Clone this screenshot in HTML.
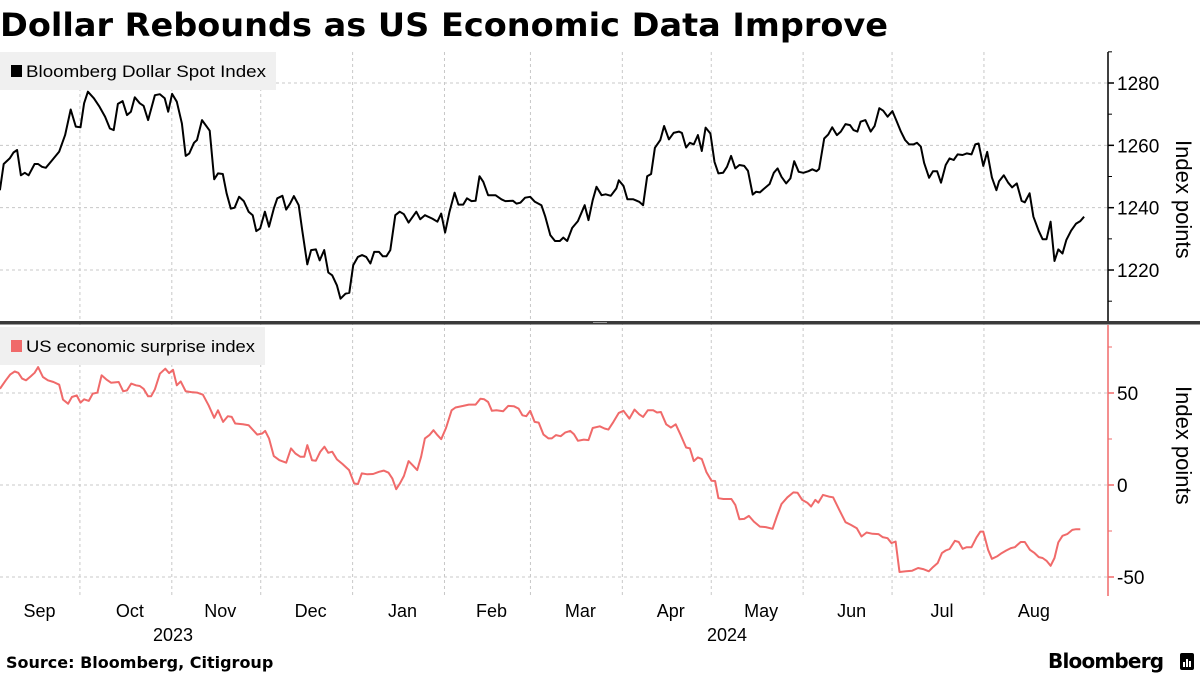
<!DOCTYPE html>
<html><head><meta charset="utf-8"><style>
html,body{margin:0;padding:0;background:#fff;}
svg{display:block;font-family:"Liberation Sans","DejaVu Sans",sans-serif;}
</style></head><body>
<svg id="chart" width="1200" height="675" viewBox="0 0 1200 675">
<text x="0" y="36" font-family="DejaVu Sans, sans-serif" font-weight="bold" font-size="32" textLength="888" lengthAdjust="spacingAndGlyphs" fill="#000">Dollar Rebounds as US Economic Data Improve</text>
<g id="grid"></g>
<g id="topPanel"></g>
<g id="botPanel"></g>
<rect x="0" y="321" width="1200" height="3.5" fill="#3a3a3a"/>
<rect x="593" y="322" width="14" height="1" fill="#999"/>
<g>
<rect x="0" y="52" width="276" height="38" fill="#f0f0f0"/>
<rect x="11" y="65" width="11" height="12" fill="#000"/>
<text x="26" y="77" font-size="17" textLength="240" lengthAdjust="spacingAndGlyphs" fill="#000">Bloomberg Dollar Spot Index</text>
</g>
<g>
<rect x="0" y="327" width="265" height="38" fill="#f0f0f0"/>
<rect x="11" y="340" width="11" height="12" fill="#f06a6a"/>
<text x="26" y="352" font-size="17" textLength="229" lengthAdjust="spacingAndGlyphs" fill="#000">US economic surprise index</text>
</g>
<text transform="translate(1176,140) rotate(90)" font-size="22" fill="#000">Index points</text>
<text transform="translate(1176,386) rotate(90)" font-size="22" fill="#000">Index points</text>
<text x="173" y="641" font-size="18" text-anchor="middle" fill="#000">2023</text>
<text x="727" y="641" font-size="18" text-anchor="middle" fill="#000">2024</text>
<text x="6" y="668" font-family="DejaVu Sans, sans-serif" font-weight="bold" font-size="16" fill="#000">Source: Bloomberg, Citigroup</text>
<text x="1048" y="668" font-family="DejaVu Sans, sans-serif" font-weight="bold" font-size="20" letter-spacing="-0.8" fill="#000">Bloomberg</text>
<g>
<rect x="1180" y="653" width="14" height="17" rx="2" fill="#000"/>
<rect x="1183" y="662" width="2" height="5" fill="#fff"/><rect x="1186" y="659" width="2" height="8" fill="#fff"/><rect x="1189" y="661" width="2" height="6" fill="#fff"/>
</g>
<g id="xaxis"></g>
</svg>
<script>
// day offsets since 2023-09-01 and values
const dollarDays=[3,4.3,6.3,7.6,8.8,10.1,11.4,12.7,14.7,15.9,17.2,18.5,20.5,23,25,26.9,28.6,30.2,31.4,32.7,34.7,36.6,38.5,40.1,41.4,42.8,44.4,45.9,47.2,48.5,50.2,51.5,53,55.3,57,58.6,59.8,61.1,62.7,64.4,65.7,66.9,68.5,69.5,71.2,73.8,75.3,76.6,78.2,79.5,80.9,82.2,83.7,85.3,86.9,88.3,89.5,90.8,92.4,93.8,95.4,96.6,98.3,99.6,100.9,102.2,103.8,105,106.7,108,109.6,110.9,112.4,113.8,115.1,116.7,117.9,119.6,120.9,122.2,123.8,125.2,126.6,128,129.3,130.9,132.2,133.4,134.7,136.4,137.9,139.3,140.9,143.5,144.8,146.4,148.9,150.6,151.9,153.2,154.7,156.4,157.7,159.3,160.6,162.1,163.5,164.8,166.1,167.7,170.2,172.2,173.5,176.1,177.3,178.6,180.2,181.9,183.5,185.7,187,188.7,190.3,191.9,193.1,194.4,196.1,198,200.3,201.6,203,204.3,206,207.4,209.1,211,211.8,213.4,214.7,216.7,218.7,220,221.4,222.7,224,225.8,227.1,228.7,230.3,232.1,233.1,234.5,235.8,237.1,238.5,239.8,241.1,242.7,244.1,245.4,247,248.3,249.7,251.1,252.5,254.1,255.4,257,258.1,259.4,260.7,262.7,264.1,265.4,266.7,268.3,269.7,271,272.5,274.1,275.8,277.1,278.5,279.4,281.1,282.5,283.8,285.4,286.7,288.3,289.8,291,292.3,293.4,295,296.8,298.1,299.7,301,302.5,304.1,305.4,307,308.4,309.8,311.2,312.4,313.7,314.8,316.5,317.8,319.2,320.5,322.1,323.4,324.8,326.1,327.8,329.2,330.8,332.1,333.2,334.8,336.1,337.7,339.2,340.1,341.7,343.2,344.5,346.1,347.7,348.8,350.4,351.7,353.5,354.8,356.1,357.5,358.8,360.1,361.5,362.8,364.4,366.1,367.5,368.8];
const dollarValues=[1245.6,1254,1255.8,1257.7,1258.5,1250.4,1251.2,1250.4,1254,1254,1253.1,1252.8,1255.1,1258,1263.3,1271.5,1266,1265.8,1273.5,1277.2,1275.1,1272.4,1269.2,1265.4,1264.9,1273.3,1274.2,1269.7,1270.8,1275.4,1273.5,1272.7,1268.1,1276.1,1276.4,1275.1,1270.8,1276.5,1274,1267,1256.6,1257.4,1260.8,1261.7,1268.1,1264.7,1249.1,1251,1250.8,1244.6,1239.7,1240,1243.5,1242.1,1238.7,1237.6,1232.5,1233.3,1238.7,1233.9,1239.7,1243,1243.8,1239.4,1241.3,1243.7,1240.8,1232.8,1221.8,1226.4,1226.6,1223.1,1226.4,1219.2,1218.3,1215.1,1210.8,1212.4,1212.7,1221.5,1224.2,1224.8,1224.2,1222.1,1225.8,1225.8,1224.4,1224.4,1226.4,1237.6,1238.7,1237.9,1235.2,1238.7,1236.3,1237.6,1236.5,1235.5,1238.1,1232,1238.7,1244.8,1241,1241,1243,1242.1,1242.2,1250.1,1248.3,1244,1244,1242.7,1242.1,1242.2,1241.3,1241.6,1243.2,1243.5,1241.9,1240.8,1237.1,1231.2,1229.3,1229.3,1230.4,1229.3,1233.5,1235.7,1240.8,1236,1242.4,1246.7,1244,1244.3,1243.8,1246.2,1248.8,1247,1242.7,1242.7,1241.9,1240.8,1250.1,1250.8,1259.2,1261.7,1266.2,1261.9,1264,1264.4,1264,1259.3,1260.8,1260.3,1263.3,1258.2,1265.7,1263.8,1254.7,1251,1251.2,1253.1,1256.6,1252.6,1253.7,1253.4,1251.8,1244.2,1245.1,1244.9,1246,1247.6,1251.2,1252.6,1249.9,1247.8,1249.4,1254.9,1251.5,1251.2,1251.7,1252.3,1251.7,1252.4,1262.2,1263.5,1265.8,1263.3,1264.4,1266.8,1266.5,1264.9,1264.4,1267.6,1268.1,1264.4,1266.2,1271.9,1271.1,1269.2,1271,1268.1,1264.4,1261.7,1260.3,1260.3,1260.8,1259.6,1254.4,1249.6,1251.7,1251.7,1248,1253.7,1255.8,1255.3,1257.1,1256.9,1257.4,1257.1,1260.3,1260.6,1253.4,1257.9,1249.7,1245.6,1248.5,1250.4,1248,1246.5,1247.8,1242.2,1241.7,1244.6,1237.1,1232.5,1229.9,1229.9,1235.5,1222.9,1226.6,1225.3,1229.6,1232.6,1234.9,1235.7,1237.1];
const surpriseDays=[3,5,6.5,8,9.2,10.5,11.8,13.4,14.7,15.9,17.5,19.2,21.1,23,24.3,26,27.3,28.9,30.2,31.4,33,34.3,35.9,37.3,38.9,40.5,43.1,44.6,45.9,47.3,48.9,50.2,51.5,53,54,55.3,57,58.8,60.1,61.4,62.7,64,65.7,67.6,69.5,71.5,73.4,75.3,76.6,78.3,79.9,81.2,82.4,85,86.9,89.8,91.5,92.5,93.8,95.4,97.3,99.6,101.2,102.7,104.4,105.7,106.7,108.3,109.6,111.1,112.5,113.8,115.1,116.7,118.6,120.8,122.5,123.8,125.1,127,128.9,130.9,132.5,134.1,135.4,136.7,138,139.3,140.9,142.2,143.8,145.1,146.4,147.9,149.3,150.6,151.9,153.5,155.4,156.7,159.3,161.2,163.5,165.1,166.4,167.7,169,170.5,172.8,174.5,176.4,178,179.3,180.6,181.9,183.4,184.8,186.4,188.1,189.2,190.6,192.2,193.7,195.4,196.7,198,200,201.6,203,205.4,207,208.3,210,211.8,213.4,215.4,217.1,218.7,220,221.6,223.4,224.7,226,227.8,229.4,231,232.7,234.5,235.8,237.1,238.5,239.8,241.4,243.1,244.3,245.4,247.1,249.8,251.1,252.5,254.1,255.7,257.4,259.4,261.4,263.7,265.1,266.7,268.7,270.7,272.1,273.7,275.4,276.7,278.1,279.1,280.7,282.7,284.1,286.1,288.3,290.1,292.1,293.7,295.4,297.4,299.4,300.8,302.5,303.8,305.2,306.5,308.7,310.8,312.8,314.5,316.4,317.8,319.4,320.8,322.1,323.4,325.2,326.5,327.8,329.2,330.8,332.5,333.8,334.8,336.4,337.7,339.4,341,342.5,344.1,345.4,347.4,348.8,350.5,352.1,353.5,354.8,356.1,357.5,358.8,360.1,361.5,363.1,364.8,366.1,367.5];
const surpriseValues=[52.3,56.9,60.1,61.7,61,57.8,56.9,59,61,64.1,58.7,56.9,56,54.5,46.4,44.2,47.8,48.7,44.8,46.6,45.7,49.6,50.2,59.6,57.4,55.6,56,50.9,51.4,55.1,54.2,53.8,52.3,48.2,48.2,52,60.5,63.2,60.8,62.6,54.2,56.3,50.9,50.5,50.2,49.1,43.3,36.5,40.6,34.3,37.4,37,33.4,33,32.5,27.4,28,29.4,25.3,15.7,13.5,12.1,19.9,17.1,15.3,15.3,21.7,13.5,13.2,18.1,20.8,17.5,18.1,13.9,11.4,8.1,0.9,0.5,6.3,5.8,6,7.2,7.8,6.7,3.6,-2.3,0.9,4.9,13,10.8,8.1,15.3,25.3,27.1,29.8,27.1,24.9,31,40.6,42.1,43,43.7,43.7,46.9,46.6,45.1,40.3,40.6,40.1,43,42.8,41.5,37.9,37.4,40.3,34.3,33.9,27.4,25.3,25.3,27.1,26.5,28.5,29.4,27.6,24,24.7,24.4,31,31.9,30.7,30.1,34.3,39.2,40.3,36.1,41,38.4,37,40.6,40.6,39.4,39.7,33,31.2,33,27.1,20.4,19.9,13,15,14.1,6.9,2.3,2.2,-7.2,-7.6,-7.6,-10.8,-18.6,-18.4,-16.8,-19.9,-22.6,-22.9,-23.8,-17.1,-10.3,-6.7,-4,-4.2,-8.1,-9.6,-11.7,-8.1,-9.6,-5.4,-6.3,-6.7,-13.2,-20.2,-21.7,-23.5,-28,-25.8,-26.5,-26.7,-28.3,-28.9,-31.6,-30.7,-47.3,-46.9,-46.6,-45.1,-45.7,-46.9,-44.6,-42.4,-37,-35.6,-34.8,-30.3,-31,-34.7,-33.8,-33.8,-28.5,-25.3,-25.3,-35.2,-40.1,-38.8,-37,-35.6,-34.3,-33.8,-31,-31,-35.2,-37,-39.2,-39.7,-41.2,-43.9,-39.7,-31.2,-27.6,-26.7,-24.4,-24,-24];
const monthLabels=["Sep","Oct","Nov","Dec","Jan","Feb","Mar","Apr","May","Jun","Jul","Aug"];
const monthStartDays=[0,30,61,91,122,153,182,213,243,274,304,335,366];
const topTicks=[1220,1240,1260,1280];
const topMinorTicks=[1210,1230,1250,1270,1290];
const botTicks=[-50,0,50];
const botMinorTicks=[-25,25,75];

const NS="http://www.w3.org/2000/svg";
const AX=1108;
function xs(d){return -9+d*2.964;}
function yTop(v){return 83+(1280-v)*3.117;}
function yBot(v){return 485-v*1.84;}
function mk(tag,attrs,parent){const e=document.createElementNS(NS,tag);for(const k in attrs)e.setAttribute(k,attrs[k]);parent.appendChild(e);return e;}
const gridG=document.getElementById('grid'),topG=document.getElementById('topPanel'),botG=document.getElementById('botPanel'),xaG=document.getElementById('xaxis');

monthStartDays.slice(1,12).forEach(d=>{
  const l=mk('line',{x1:xs(d),x2:xs(d),y1:52,y2:597,stroke:'#c8c8c8','stroke-dasharray':'3,3','stroke-width':1},gridG);
  
  
});
topTicks.forEach(v=>{
  const l=mk('line',{x1:0,x2:AX,y1:yTop(v),y2:yTop(v),stroke:'#c8c8c8','stroke-dasharray':'3,3'},gridG);
  
  
});
botTicks.forEach(v=>{
  const l=mk('line',{x1:0,x2:AX,y1:yBot(v),y2:yBot(v),stroke:'#c8c8c8','stroke-dasharray':'3,3'},gridG);
  
  
});

let a=mk('line',{x1:AX,x2:AX,y1:52,y2:321,stroke:'#000','stroke-width':1.5},topG);


topTicks.forEach(v=>{
  const t=mk('line',{x1:AX,x2:AX+6,y1:yTop(v),y2:yTop(v),stroke:'#000','stroke-width':1.5},topG);
  
  
  const tx=mk('text',{x:AX+9,y:yTop(v)+7,'font-size':19,fill:'#000'},topG);
  tx.textContent=v;
  
  
});
topMinorTicks.forEach(v=>{
  const t=mk('line',{x1:AX,x2:AX+4,y1:yTop(v),y2:yTop(v),stroke:'#000','stroke-width':1},topG);
  
  
});
let p=mk('path',{d:dollarDays.map((d,i)=>(i?'L':'M')+xs(d).toFixed(1)+','+yTop(dollarValues[i]).toFixed(1)).join(''),fill:'none',stroke:'#000','stroke-width':2,'stroke-linejoin':'round'},topG);



a=mk('line',{x1:AX,x2:AX,y1:325,y2:596,stroke:'#f06a6a','stroke-width':1.5},botG);


botTicks.forEach(v=>{
  const t=mk('line',{x1:AX,x2:AX+6,y1:yBot(v),y2:yBot(v),stroke:'#f06a6a','stroke-width':1.5},botG);
  
  
  const tx=mk('text',{x:AX+9,y:yBot(v)+7,'font-size':19,fill:'#000'},botG);
  tx.textContent=v;
  
  
});
botMinorTicks.forEach(v=>{
  const t=mk('line',{x1:AX,x2:AX+4,y1:yBot(v),y2:yBot(v),stroke:'#f06a6a','stroke-width':1},botG);
  
  
});
p=mk('path',{d:surpriseDays.map((d,i)=>(i?'L':'M')+xs(d).toFixed(1)+','+yBot(surpriseValues[i]).toFixed(1)).join(''),fill:'none',stroke:'#f06a6a','stroke-width':2,'stroke-linejoin':'round'},botG);



monthLabels.forEach((m,i)=>{
  const mid=(monthStartDays[i]+monthStartDays[i+1])/2;
  const t=mk('text',{x:xs(mid)+4,y:617,'font-size':18,'text-anchor':'middle',fill:'#000'},xaG);
  t.textContent=m;
  
  
});
</script>
</body></html>
